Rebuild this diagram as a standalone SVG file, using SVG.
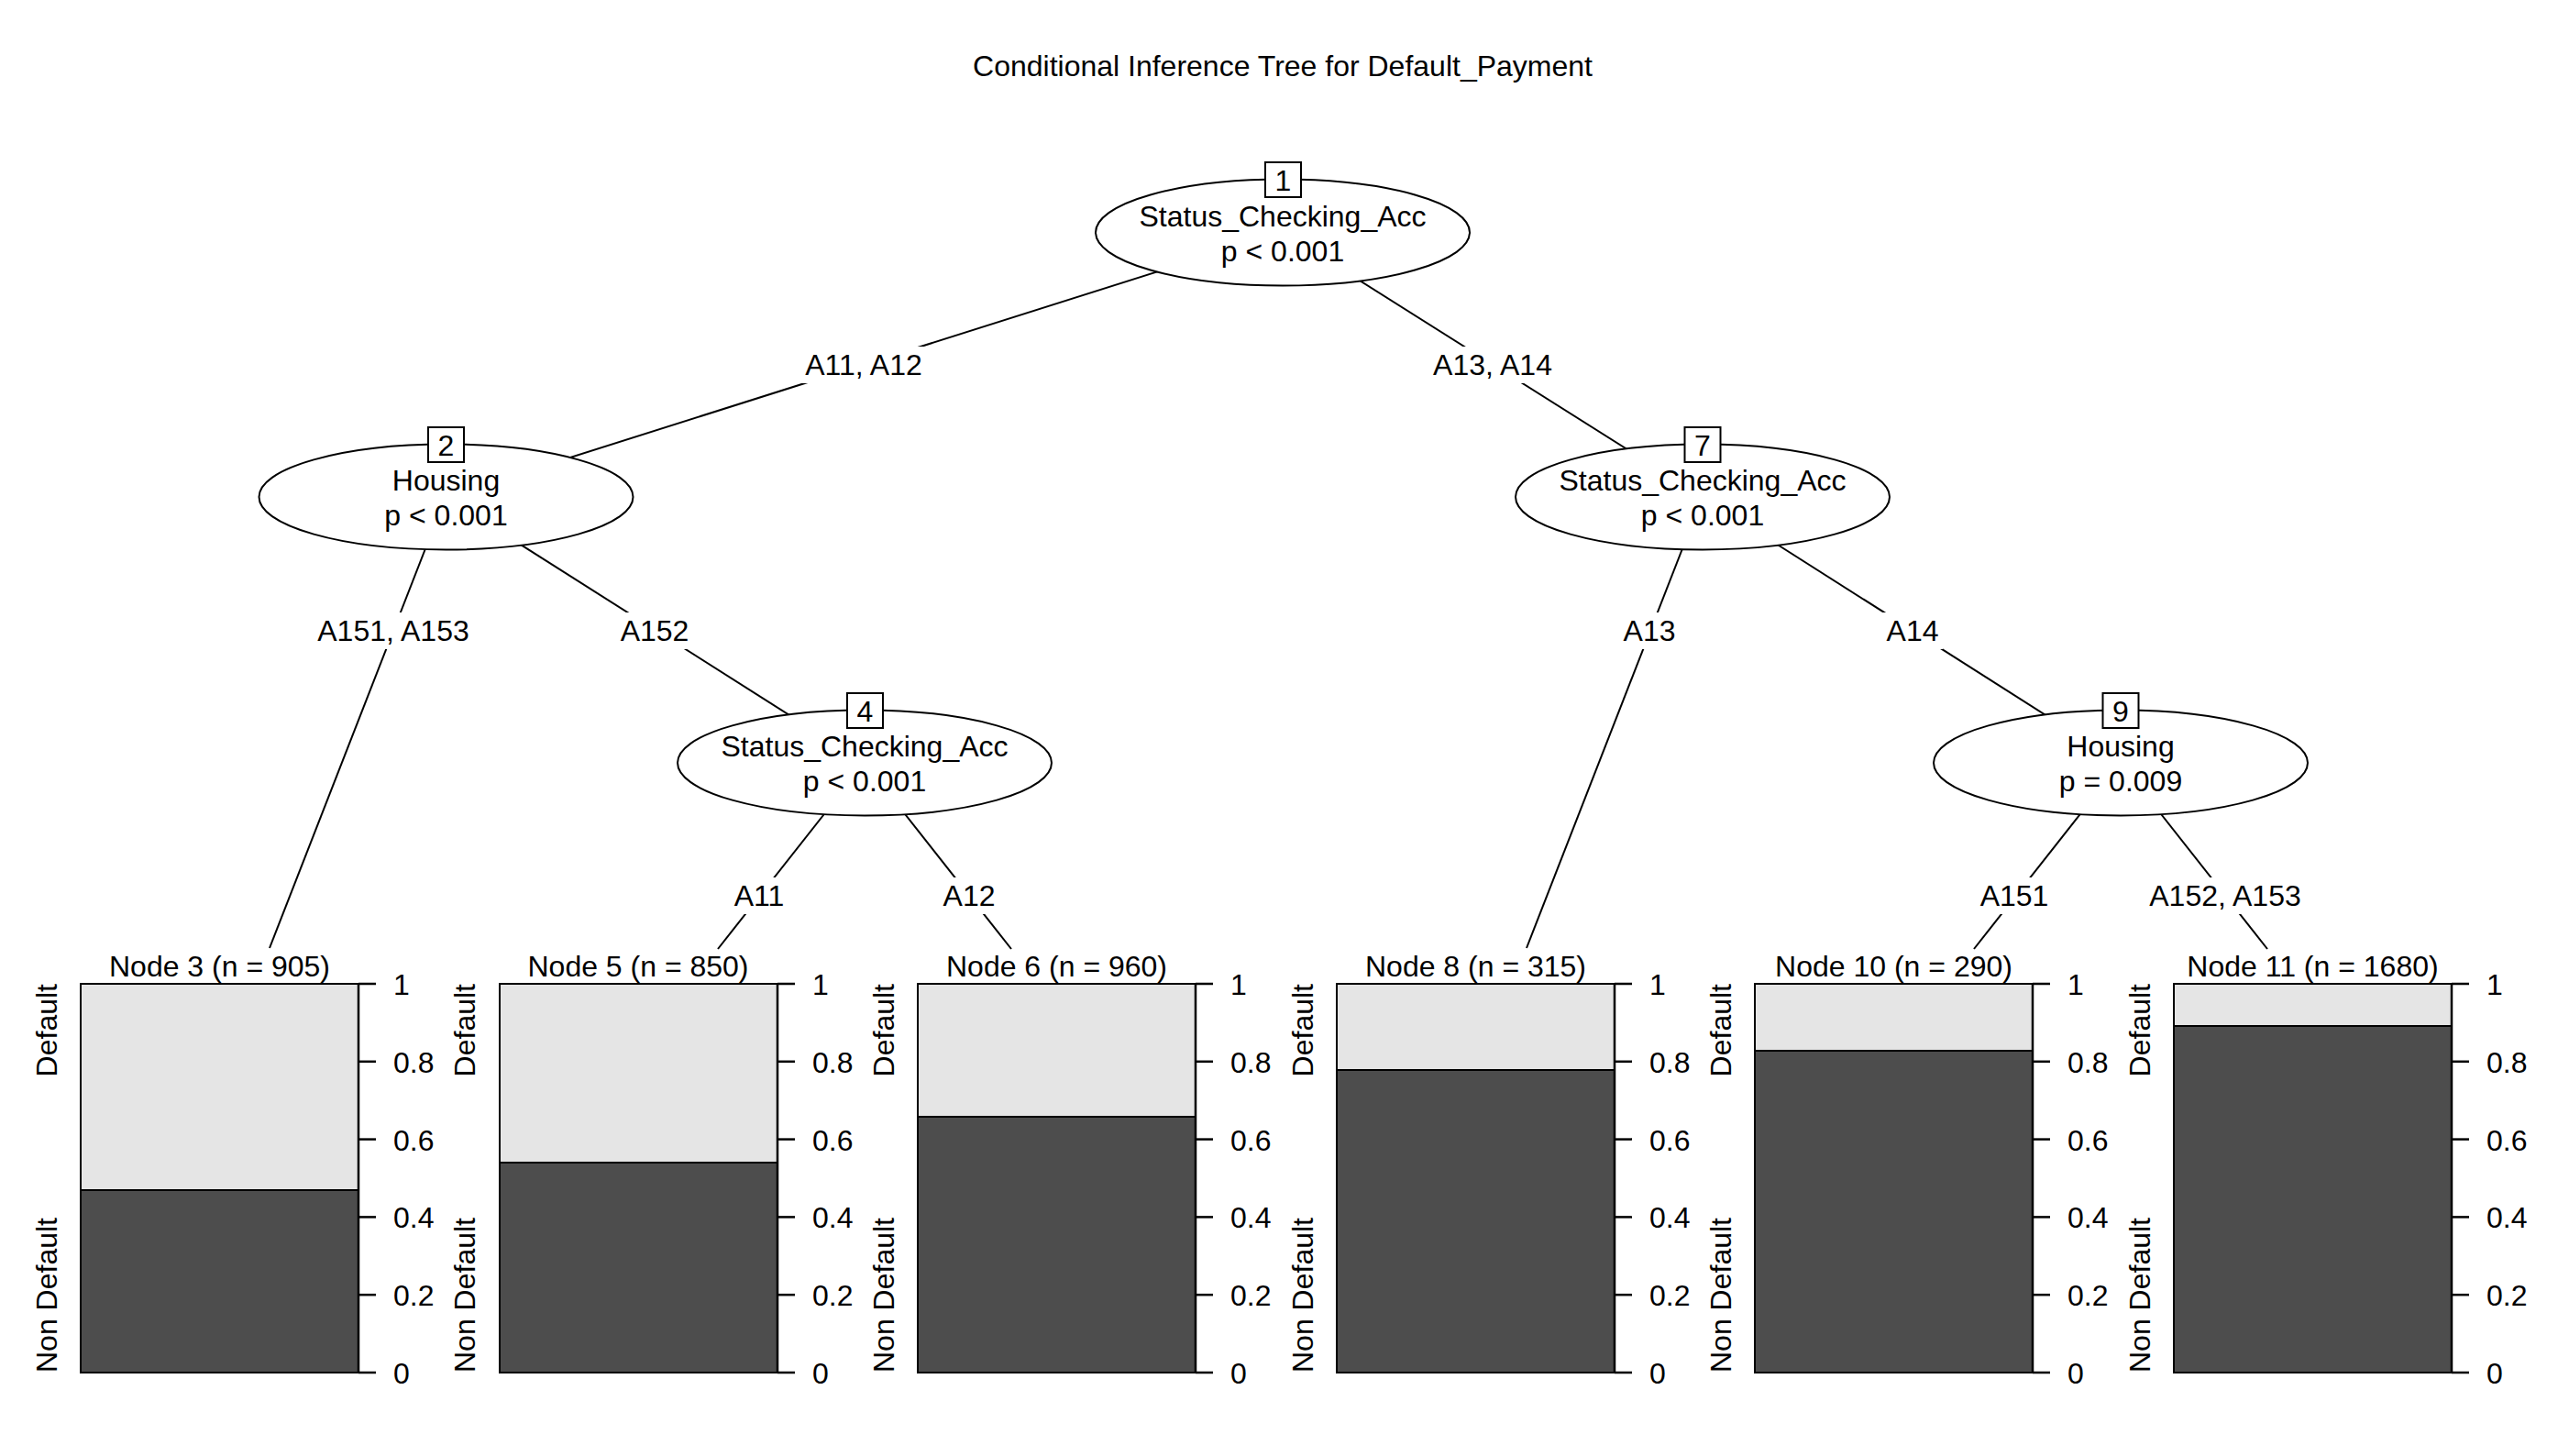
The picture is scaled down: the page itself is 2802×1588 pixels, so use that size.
<svg xmlns="http://www.w3.org/2000/svg" width="2802" height="1588" viewBox="0 0 2802 1588">
<style>
text{font-family:"Liberation Sans",Arial,sans-serif;font-size:32px;fill:#000}
.c{text-anchor:middle}
.edge{stroke:#000;stroke-width:2;fill:none}
.lblbg{fill:#fff;stroke:none}
.ell{fill:#fff;stroke:#000;stroke-width:2}
.idbox{fill:#fff;stroke:#000;stroke-width:2}
.lt{fill:#e5e5e5;stroke:#000;stroke-width:2}
.dk{fill:#4d4d4d;stroke:#000;stroke-width:2}
.tick{stroke:#000;stroke-width:2.5}
</style>
<rect width="2802" height="1588" fill="#fff"/>
<text class="c" x="1399" y="83">Conditional Inference Tree for Default_Payment</text>

<g id="connectors">
  <line class="edge" x1="1399" y1="253" x2="486" y2="542"/>
  <line class="edge" x1="1399" y1="253" x2="1857" y2="542"/>
  <line class="edge" x1="486" y1="542" x2="294" y2="1034"/>
  <line class="edge" x1="486" y1="542" x2="943" y2="832"/>
  <line class="edge" x1="943" y1="832" x2="783" y2="1035"/>
  <line class="edge" x1="943" y1="832" x2="1103" y2="1035"/>
  <line class="edge" x1="1857" y1="542" x2="1665" y2="1034"/>
  <line class="edge" x1="1857" y1="542" x2="2313" y2="832"/>
  <line class="edge" x1="2313" y1="832" x2="2153" y2="1035"/>
  <line class="edge" x1="2313" y1="832" x2="2473" y2="1035"/>
  <g id="edge-labels">
    <rect class="lblbg" x="872" y="378" width="140" height="40"/>
    <text class="c" x="942" y="409">A11, A12</text>
    <rect class="lblbg" x="1558" y="378" width="140" height="40"/>
    <text class="c" x="1628" y="409">A13, A14</text>
    <rect class="lblbg" x="341" y="668" width="176" height="40"/>
    <text class="c" x="429" y="699">A151, A153</text>
    <rect class="lblbg" x="672" y="668" width="84" height="40"/>
    <text class="c" x="714" y="699">A152</text>
    <rect class="lblbg" x="1766" y="668" width="66" height="40"/>
    <text class="c" x="1799" y="699">A13</text>
    <rect class="lblbg" x="2053" y="668" width="66" height="40"/>
    <text class="c" x="2086" y="699">A14</text>
    <rect class="lblbg" x="795" y="957" width="66" height="40"/>
    <text class="c" x="828" y="988">A11</text>
    <rect class="lblbg" x="1024" y="957" width="66" height="40"/>
    <text class="c" x="1057" y="988">A12</text>
    <rect class="lblbg" x="2155" y="957" width="84" height="40"/>
    <text class="c" x="2197" y="988">A151</text>
    <rect class="lblbg" x="2339" y="957" width="176" height="40"/>
    <text class="c" x="2427" y="988">A152, A153</text>
  </g>
</g>

<g id="node1">
  <ellipse class="ell" cx="1399" cy="253.5" rx="204" ry="58"/>
  <rect class="idbox" x="1380" y="177" width="39" height="38"/>
  <text class="c" x="1399.5" y="208">1</text>
  <text class="c" x="1399" y="247">Status_Checking_Acc</text>
  <text class="c" x="1399" y="285">p &lt; 0.001</text>
</g>
<g id="node2">
  <ellipse class="ell" cx="486.5" cy="542" rx="204" ry="57.5"/>
  <rect class="idbox" x="467" y="466" width="39" height="38"/>
  <text class="c" x="486.5" y="497">2</text>
  <text class="c" x="486.5" y="535">Housing</text>
  <text class="c" x="486.5" y="573">p &lt; 0.001</text>
</g>
<g id="node4">
  <ellipse class="ell" cx="943" cy="832" rx="204" ry="57.5"/>
  <rect class="idbox" x="924" y="756" width="39" height="38"/>
  <text class="c" x="943.5" y="787">4</text>
  <text class="c" x="943" y="825">Status_Checking_Acc</text>
  <text class="c" x="943" y="863">p &lt; 0.001</text>
</g>
<g id="node7">
  <ellipse class="ell" cx="1857" cy="542" rx="204" ry="57.5"/>
  <rect class="idbox" x="1837.5" y="466" width="39" height="38"/>
  <text class="c" x="1857" y="497">7</text>
  <text class="c" x="1857" y="535">Status_Checking_Acc</text>
  <text class="c" x="1857" y="573">p &lt; 0.001</text>
</g>
<g id="node9">
  <ellipse class="ell" cx="2313" cy="832" rx="204" ry="57.5"/>
  <rect class="idbox" x="2293.5" y="756" width="39" height="38"/>
  <text class="c" x="2313" y="787">9</text>
  <text class="c" x="2313" y="825">Housing</text>
  <text class="c" x="2313" y="863">p = 0.009</text>
</g>

<defs>
  <g id="axis">
    <line class="tick" x1="0" y1="1073" x2="19" y2="1073"/>
    <line class="tick" x1="0" y1="1157.8" x2="19" y2="1157.8"/>
    <line class="tick" x1="0" y1="1242.6" x2="19" y2="1242.6"/>
    <line class="tick" x1="0" y1="1327.4" x2="19" y2="1327.4"/>
    <line class="tick" x1="0" y1="1412.2" x2="19" y2="1412.2"/>
    <line class="tick" x1="0" y1="1497" x2="19" y2="1497"/>
    <line class="tick" x1="0" y1="1073" x2="0" y2="1497"/>
    <text x="38" y="1085">1</text>
    <text x="38" y="1170">0.8</text>
    <text x="38" y="1255">0.6</text>
    <text x="38" y="1339">0.4</text>
    <text x="38" y="1424">0.2</text>
    <text x="38" y="1509">0</text>
  </g>
</defs>

<g id="node3">
  <text class="c" x="239.5" y="1065">Node 3 (n = 905)</text>
  <rect class="dk" x="88" y="1298" width="303" height="199"/>
  <rect class="lt" x="88" y="1073" width="303" height="225"/>
  <use href="#axis" x="391"/>
  <text transform="translate(62,1073) rotate(-90)" text-anchor="end">Default</text>
  <text transform="translate(62,1497) rotate(-90)">Non Default</text>
</g>
<g id="node5">
  <text class="c" x="696" y="1065">Node 5 (n = 850)</text>
  <rect class="dk" x="545" y="1268" width="303" height="229"/>
  <rect class="lt" x="545" y="1073" width="303" height="195"/>
  <use href="#axis" x="848"/>
  <text transform="translate(518,1073) rotate(-90)" text-anchor="end">Default</text>
  <text transform="translate(518,1497) rotate(-90)">Non Default</text>
</g>
<g id="node6">
  <text class="c" x="1152.5" y="1065">Node 6 (n = 960)</text>
  <rect class="dk" x="1001" y="1218" width="303" height="279"/>
  <rect class="lt" x="1001" y="1073" width="303" height="145"/>
  <use href="#axis" x="1304"/>
  <text transform="translate(975,1073) rotate(-90)" text-anchor="end">Default</text>
  <text transform="translate(975,1497) rotate(-90)">Non Default</text>
</g>
<g id="node8">
  <text class="c" x="1609.5" y="1065">Node 8 (n = 315)</text>
  <rect class="dk" x="1458" y="1167" width="303" height="330"/>
  <rect class="lt" x="1458" y="1073" width="303" height="94"/>
  <use href="#axis" x="1761"/>
  <text transform="translate(1432,1073) rotate(-90)" text-anchor="end">Default</text>
  <text transform="translate(1432,1497) rotate(-90)">Non Default</text>
</g>
<g id="node10">
  <text class="c" x="2065.5" y="1065">Node 10 (n = 290)</text>
  <rect class="dk" x="1914" y="1146" width="303" height="351"/>
  <rect class="lt" x="1914" y="1073" width="303" height="73"/>
  <use href="#axis" x="2217"/>
  <text transform="translate(1888,1073) rotate(-90)" text-anchor="end">Default</text>
  <text transform="translate(1888,1497) rotate(-90)">Non Default</text>
</g>
<g id="node11">
  <text class="c" x="2522.5" y="1065">Node 11 (n = 1680)</text>
  <rect class="dk" x="2371" y="1119" width="303" height="378"/>
  <rect class="lt" x="2371" y="1073" width="303" height="46"/>
  <use href="#axis" x="2674"/>
  <text transform="translate(2345,1073) rotate(-90)" text-anchor="end">Default</text>
  <text transform="translate(2345,1497) rotate(-90)">Non Default</text>
</g>
</svg>
